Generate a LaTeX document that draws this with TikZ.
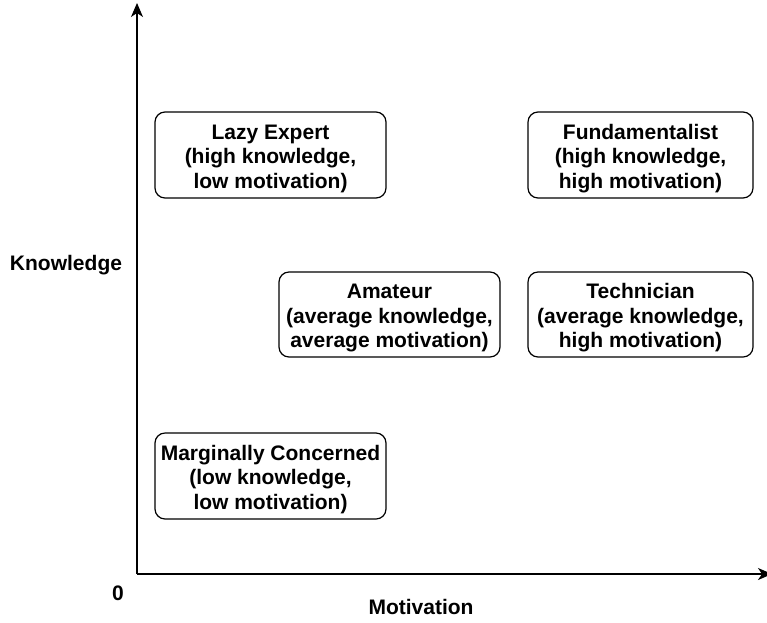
\documentclass[tikz,border=0pt]{standalone}
\usepackage{fontspec}
\setmainfont{Liberation Sans}
\usetikzlibrary{arrows.meta}
\newcommand\quadtext[1]{\raisebox{-4pt}[\height][\depth]{\begin{tabular}{@{}c@{}}#1\end{tabular}}}
\begin{document}
\begin{tikzpicture}[x=1pt,y=-1pt,
  quad/.style={draw, line width=1.2pt, rounded corners=10pt, minimum width=231pt, minimum height=86pt, font=\bfseries\fontsize{21}{24.5}\selectfont, inner sep=0pt},
  axis/.style={line width=1.2pt, -{Stealth[length=14pt,width=12pt,inset=4pt]}},
  lbl/.style={font=\bfseries\fontsize{21}{25}\selectfont}]
\useasboundingbox (0,0) rectangle (767,622);
\coordinate (o) at (137,574);
\coordinate (ytop) at (137,3);
\coordinate (xend) at (772,574);
\draw[axis] (o) -- (ytop);
\draw[axis] (o) -- (xend);
\node[quad] (lazy) at (270.5,155) {\quadtext{Lazy Expert\\(high knowledge,\\low motivation)}};
\node[quad, minimum width=225pt] (fund) at (640.5,155) {\quadtext{Fundamentalist\\(high knowledge,\\high motivation)}};
\node[quad, minimum width=221pt, minimum height=85pt] (amat) at (389.5,314.5) {\quadtext{Amateur\\(average knowledge,\\average motivation)}};
\node[quad, minimum width=225pt, minimum height=85pt] (tech) at (640.5,314.5) {\quadtext{Technician\\(average knowledge,\\high motivation)}};
\node[quad] (marg) at (270.5,476) {\quadtext{Marginally Concerned\\(low knowledge,\\low motivation)}};
\node[lbl] (know) at (66,265) {Knowledge};
\node[lbl] (zero) at (118,593) {0};
\node[lbl] (motiv) at (421,607) {Motivation};
\end{tikzpicture}
\end{document}
